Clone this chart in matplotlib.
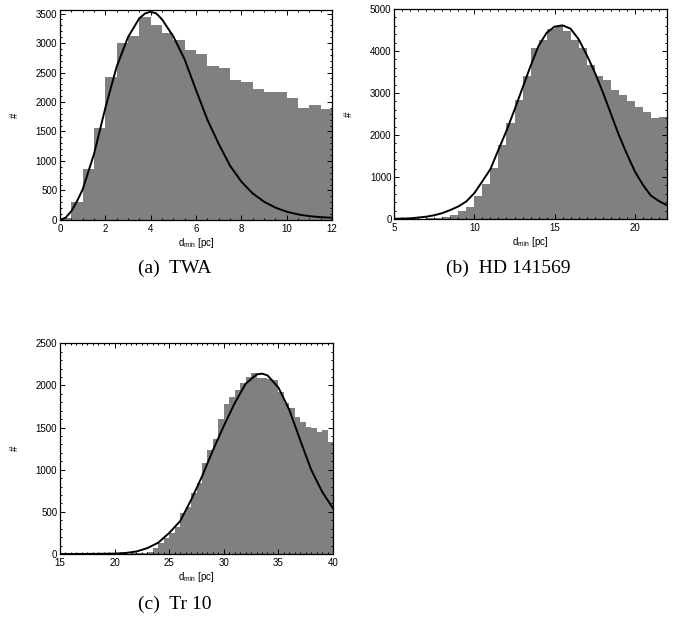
import matplotlib
matplotlib.use("Agg")
import matplotlib.pyplot as plt
from matplotlib.ticker import MultipleLocator

plt.rcParams['font.family'] = ['Liberation Sans', 'DejaVu Sans']

# histogram bins are 0.5 pc wide; counts
twa_start = 0.0
twa_counts = [40, 310, 864, 1564, 2422, 3003, 3116, 3443, 3302, 3178, 3048, 2879,
              2811, 2608, 2574, 2371, 2337, 2218, 2168, 2168, 2066, 1897, 1942, 1880]
twa_fit_x = [0, 0.25, 0.5, 0.75, 1.0, 1.5, 2.0, 2.5, 3.0, 3.5, 3.75, 4.0, 4.25, 4.5, 5.0,
             5.5, 6.0, 6.5, 7.0, 7.5, 8.0, 8.5, 9.0, 9.5, 10.0, 10.5, 11.0, 11.5, 12.0]
twa_fit_y = [0, 40, 150, 320, 520, 1120, 1900, 2600, 3100, 3420, 3500, 3530, 3500, 3400, 3110,
             2720, 2200, 1700, 1290, 920, 650, 450, 310, 210, 140, 95, 65, 48, 38]

hd_start = 5.0
hd_counts = [0, 0, 5, 10, 15, 30, 50, 90, 190, 290,
             548, 845, 1210, 1762, 2294, 2833, 3410, 4080, 4270, 4524,
             4600, 4470, 4250, 4075, 3667, 3410, 3310, 3072, 2952, 2800,
             2675, 2545, 2400, 2430]
hd_fit_x = [5, 6, 7, 7.5, 8, 8.5, 9, 9.5, 10, 10.5, 11, 11.5, 12, 12.5, 13, 13.5, 14,
            14.5, 15, 15.5, 16, 16.5, 17, 17.5, 18, 18.5, 19, 19.5, 20, 20.5, 21, 21.5, 22]
hd_fit_y = [5, 15, 55, 90, 140, 215, 300, 420, 620, 900, 1190, 1650, 2100, 2600, 3120, 3640,
            4120, 4430, 4580, 4610, 4530, 4280, 3910, 3500, 3030, 2520, 2010, 1560, 1140,
            820, 560, 430, 330]

tr_start = 15.0
tr_counts = [0, 0, 0, 0, 0, 0, 0, 0, 0, 0, 2, 3, 5, 8, 10, 15,
             27, 67, 126, 186, 245, 324, 482, 561, 727, 838, 1075, 1233, 1360, 1597,
             1779, 1866, 1945, 2024, 2096, 2143, 2084, 2084, 2072, 2060, 1925, 1787,
             1727, 1629, 1569, 1510, 1490, 1451, 1471, 1333]
tr_fit_x = [15, 17, 19, 20, 21, 22, 23, 24, 25, 26, 27, 28, 29, 30, 31, 32, 33, 33.5,
            34, 35, 36, 37, 38, 39, 40]
tr_fit_y = [0, 1, 3, 5, 12, 30, 70, 135, 250, 390, 640, 920, 1230, 1520, 1790, 2020,
            2130, 2140, 2120, 1975, 1710, 1350, 1000, 740, 541]


def panel(rect, start, counts, fx, fy, xlim, ylim, xmaj, xmin, ymaj, ymin):
    ax = fig.add_axes(rect)
    lefts = [start + 0.5 * i for i in range(len(counts))]
    ax.bar(lefts, counts, width=0.5, align='edge', color='#808080', linewidth=0)
    ax.plot(fx, fy, color='black', lw=1.4)
    ax.set_xlim(*xlim)
    ax.set_ylim(*ylim)
    ax.xaxis.set_major_locator(MultipleLocator(xmaj))
    ax.xaxis.set_minor_locator(MultipleLocator(xmin))
    ax.yaxis.set_major_locator(MultipleLocator(ymaj))
    ax.yaxis.set_minor_locator(MultipleLocator(ymin))
    ax.tick_params(which='both', direction='in', top=True, right=True,
                   labelsize=7, pad=2, width=0.7)
    ax.tick_params(axis='x', pad=3)
    ax.tick_params(which='major', length=3.6)
    ax.tick_params(which='minor', length=1.6)
    for s in ax.spines.values():
        s.set_linewidth(0.9)
    ax.set_xlabel(r'$\mathregular{d_{min}}$ [pc]', fontsize=7)
    ax.set_ylabel('#', fontsize=7)
    ax.xaxis.set_label_coords(0.5, -0.075)
    ax.yaxis.set_label_coords(-0.147, 0.5)
    return ax


fig = plt.figure(figsize=(6.73, 6.19), dpi=100)

panel([0.0892, 0.6446, 0.4042, 0.3393], twa_start, twa_counts, twa_fit_x, twa_fit_y,
      (0, 12), (0, 3560), 2, 0.5, 500, 100)
panel([0.5859, 0.6462, 0.4048, 0.3393], hd_start, hd_counts, hd_fit_x, hd_fit_y,
      (5, 22), (0, 5000), 5, 0.5, 1000, 200)
panel([0.0892, 0.1050, 0.4056, 0.3404], tr_start, tr_counts, tr_fit_x, tr_fit_y,
      (15, 40), (0, 2500), 5, 0.5, 500, 100)

cap = dict(family=['Liberation Serif', 'DejaVu Serif'], fontsize=14, ha='center', va='center')
fig.text(175 / 673, 1 - 268 / 619, '(a)  TWA', **cap)
fig.text(508 / 673, 1 - 268 / 619, '(b)  HD 141569', **cap)
fig.text(175 / 673, 1 - 604 / 619, '(c)  Tr 10', **cap)

fig.savefig('out.png', dpi=100)
